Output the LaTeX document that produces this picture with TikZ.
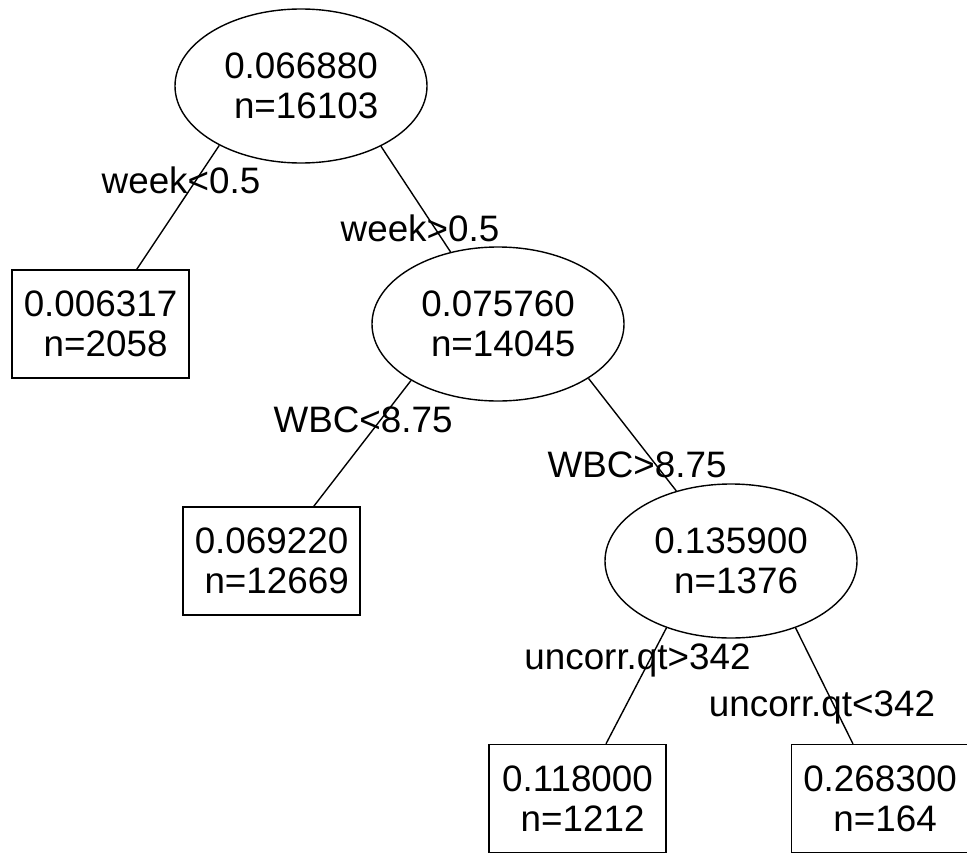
\documentclass[tikz,border=0pt]{standalone}
\usepackage{fontspec}
\setmainfont{Liberation Sans}
\usetikzlibrary{shapes.geometric}
\begin{document}
\begin{tikzpicture}[x=1pt,y=-1pt,
  every node/.style={font=\fontsize{36.8}{40}\selectfont},
  split/.style={draw, ellipse, line width=1.4pt, minimum width=252pt, minimum height=154pt, inner sep=0pt, align=center},
  leaf/.style={draw, rectangle, line width=1.4pt, minimum width=177pt, minimum height=108pt, inner sep=0pt, align=center},
  branch/.style={line width=1.4pt},
  cond/.style={anchor=base, inner sep=0pt}]
\useasboundingbox (0,0) rectangle (967,854);
% nodes
\node[split] (root) at (301,86) {0.066880\\\hspace*{0.28em}n=16103};
\node[leaf] (l1) at (100.5,324) {0.006317\\\hspace*{0.28em}n=2058};
\node[split] (s2) at (498,324) {0.075760\\\hspace*{0.28em}n=14045};
\node[leaf] (l2) at (271.5,561) {0.069220\\\hspace*{0.28em}n=12669};
\node[split] (s3) at (731,561) {0.135900\\\hspace*{0.28em}n=1376};
\node[leaf] (l3) at (577.5,798.5) {0.118000\\\hspace*{0.28em}n=1212};
\node[leaf] (l4) at (880,798.5) {0.268300\\\hspace*{0.28em}n=164};
% branches
\draw[branch] (root.216) -- (l1);
\draw[branch] (root.323) -- (s2);
\draw[branch] (s2.213) -- (l2);
\draw[branch] (s2.329) -- (s3);
\draw[branch] (s3.226) -- (l3);
\draw[branch] (s3.314) -- (l4);
% split labels
\node[cond] (c1) at (181,193) {week<0.5};
\node[cond] (c2) at (420,241) {week>0.5};
\node[cond] (c3) at (363,432) {WBC<8.75};
\node[cond] (c4) at (637,477) {WBC>8.75};
\node[cond] (c5) at (637.5,669) {uncorr.qt>342};
\node[cond] (c6) at (822,716) {uncorr.qt<342};
\end{tikzpicture}
\end{document}
